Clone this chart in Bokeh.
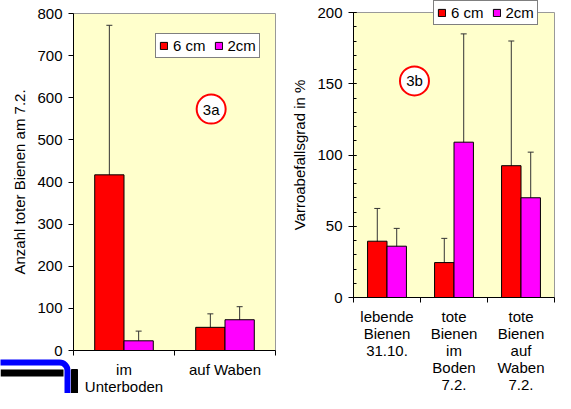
from bokeh.plotting import figure
from bokeh.models import (ColumnDataSource, Range1d, FixedTicker, Whisker, TeeHead,
                          Legend, LegendItem, BoxAnnotation)
from bokeh.layouts import row
from bokeh.embed import file_html
from bokeh.resources import INLINE
from bokeh.core.properties import value

# ---------------- data ----------------
cats_a = ["im\nUnterboden", "auf Waben"]
a_6cm = [417, 55]
a_6cm_err = [355, 32]
a_2cm = [23, 73]
a_2cm_err = [23, 31]
yticks_a = [0, 100, 200, 300, 400, 500, 600, 700, 800]

cats_b = ["lebende\nBienen\n31.10.", "tote\nBienen\nim\nBoden\n7.2.", "tote\nBienen\nauf\nWaben\n7.2."]
b_6cm = [39.5, 24.5, 92.5]
b_6cm_err = [23, 17, 87.5]
b_2cm = [36, 109, 70]
b_2cm_err = [12.5, 76, 32]
yticks_b = [0, 50, 100, 150, 200]
yminor_b = list(range(0, 201, 10))

series_names = ["6 cm", "2cm"]
colors = ["#FF0000", "#FF00FF"]

FONT = "Liberation Sans"
BW = 0.29
YELLOW = "#FFFFCC"
OUTLINE = "#999999"
H = 393


def lin_range(p0, p1, v0, v1, total):
    """range so that value v0 sits at pixel p0 and v1 at pixel p1 (pixels from start)"""
    k = (v1 - v0) / (p1 - p0)
    return Range1d(v0 - p0 * k, v0 + (total - p0) * k)


def make_panel(cats, v1, e1, v2, e2, ymax, yticks, yminor, ylabel, width,
               px_x0, px_x1, px_y0, px_ytop, legend_loc, tag, tag_pos, x_standoff):
    n = len(cats)
    xr = lin_range(px_x0, px_x1, 0, n, width)
    yr = lin_range(H - px_y0, H - px_ytop, 0, ymax, H)
    p = figure(width=width, height=H, output_backend="svg", toolbar_location=None,
               x_range=xr, y_range=yr,
               min_border_left=0, min_border_right=0, min_border_top=0, min_border_bottom=0)
    p.border_fill_color = "white"
    p.background_fill_color = "white"
    p.outline_line_color = None
    p.xgrid.visible = False
    p.ygrid.visible = False
    # plot area
    p.add_layout(BoxAnnotation(left=0, right=n, bottom=0, top=ymax,
                               fill_color=YELLOW, fill_alpha=1,
                               line_color=OUTLINE, line_alpha=1, line_width=1,
                               level="underlay"))

    centers = [i + 0.5 for i in range(n)]
    xs1 = [c - BW / 2 for c in centers]
    xs2 = [c + BW / 2 for c in centers]
    src1 = ColumnDataSource(dict(x=xs1, top=v1, upper=[a + b for a, b in zip(v1, e1)],
                                 lower=[a - b for a, b in zip(v1, e1)]))
    src2 = ColumnDataSource(dict(x=xs2, top=v2, upper=[a + b for a, b in zip(v2, e2)],
                                 lower=[a - b for a, b in zip(v2, e2)]))
    r1 = p.vbar(x="x", top="top", width=BW, bottom=0, source=src1,
                fill_color=colors[0], line_color="black", line_width=1)
    r2 = p.vbar(x="x", top="top", width=BW, bottom=0, source=src2,
                fill_color=colors[1], line_color="black", line_width=1)
    for s in (src1, src2):
        w = Whisker(source=s, base="x", upper="upper", lower="lower", dimension="height",
                    line_color="#333333", line_width=1,
                    upper_head=TeeHead(size=6, line_color="#333333", line_width=1),
                    lower_head=TeeHead(size=6, line_color="#333333", line_width=1))
        p.add_layout(w)

    # x axis: category labels at centres, ticks at category boundaries
    xa = p.xaxis[0]
    xa.fixed_location = 0
    xa.bounds = (0, n)
    xa.ticker = FixedTicker(ticks=centers, minor_ticks=list(range(n + 1)))
    xa.major_label_overrides = {c: lab for c, lab in zip(centers, cats)}
    xa.major_tick_in = 0
    xa.major_tick_out = 0
    xa.minor_tick_in = 0
    xa.minor_tick_out = 5
    xa.minor_tick_line_color = "black"
    xa.axis_line_color = "black"
    xa.major_label_text_font = FONT
    xa.major_label_text_font_size = "15px"
    xa.major_label_text_color = "black"
    xa.major_label_standoff = x_standoff
    xa.major_label_text_line_height = 1.0

    ya = p.yaxis[0]
    ya.fixed_location = 0
    ya.bounds = (0, ymax)
    ya.ticker = FixedTicker(ticks=yticks, minor_ticks=yminor)
    ya.major_tick_out = 5
    ya.major_tick_in = 3 if yminor else 0
    ya.minor_tick_in = 3
    ya.minor_tick_out = 0
    ya.major_tick_line_color = "black"
    ya.minor_tick_line_color = "black"
    ya.axis_line_color = "black"
    ya.major_label_text_font = FONT
    ya.major_label_text_font_size = "15px"
    ya.major_label_text_color = "black"
    ya.major_label_standoff = 6
    ya.axis_label = ylabel
    ya.axis_label_text_font = FONT
    ya.axis_label_text_font_size = "15px"
    ya.axis_label_text_font_style = "normal"
    ya.axis_label_text_color = "black"
    ya.axis_label_standoff = 6

    legend = Legend(items=[LegendItem(label=series_names[0], renderers=[r1]),
                           LegendItem(label=series_names[1], renderers=[r2])],
                    location=legend_loc, orientation="horizontal",
                    background_fill_color="white", background_fill_alpha=1,
                    border_line_color="black", border_line_width=1,
                    label_text_font=FONT, label_text_font_size="15px",
                    label_text_color="black",
                    glyph_width=9, glyph_height=9, label_standoff=5, spacing=8,
                    padding=3, margin=0, label_height=14, label_width=0)
    p.add_layout(legend, "center")

    # circled panel tag
    p.scatter(x=[tag_pos[0]], y=[tag_pos[1]], size=29, marker="circle",
              fill_color="white", line_color="#FF0000", line_width=2)
    p.text(x=[tag_pos[0]], y=[tag_pos[1]], text=[tag], text_align="center",
           text_baseline="middle", text_font=value(FONT), text_font_size="15px",
           text_color="black")
    return p


p1 = make_panel(cats_a, a_6cm, a_6cm_err, a_2cm, a_2cm_err, 800, yticks_a, [],
                "Anzahl toter Bienen am 7.2.", 282, 73, 275, 350, 13,
                (155, H - 58), "3a", (1.363, 573), 5)
p2 = make_panel(cats_b, b_6cm, b_6cm_err, b_2cm, b_2cm_err, 200, yticks_b, yminor_b,
                "Varroabefallsgrad in %", 273, 71, 272, 297, 12,
                (151, H - 25), "3b", (0.910, 152), 5)

# window-frame corner visible at the lower left of the screenshot
p1.add_layout(BoxAnnotation(left=-20, right=67, top=362, bottom=460,
                            left_units="canvas", right_units="canvas",
                            top_units="canvas", bottom_units="canvas",
                            fill_alpha=0, line_color="#0000FF", line_alpha=1,
                            line_width=6, border_radius=8))
p1.add_layout(BoxAnnotation(left=0, right=63, top=369, bottom=376,
                            left_units="canvas", right_units="canvas",
                            top_units="canvas", bottom_units="canvas",
                            fill_color="black", fill_alpha=1, line_alpha=0))
p1.add_layout(BoxAnnotation(left=71, right=77, top=369, bottom=H,
                            left_units="canvas", right_units="canvas",
                            top_units="canvas", bottom_units="canvas",
                            fill_color="black", fill_alpha=1, line_color="black",
                            line_alpha=1, line_width=1))

layout = row(p1, p2)
open("out.html", "w").write(file_html(layout, INLINE))
